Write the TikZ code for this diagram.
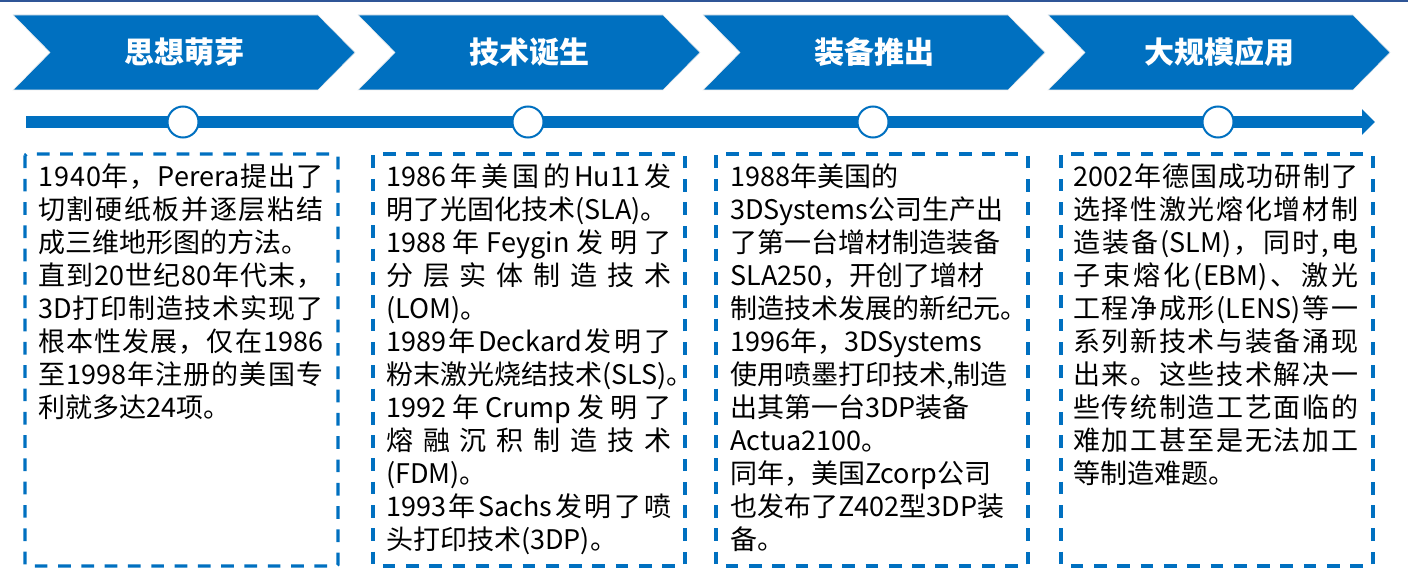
\documentclass[tikz,border=0pt]{standalone}
\usepackage{fontspec}
\setmainfont{Noto Sans CJK SC}
\usetikzlibrary{arrows.meta}
\definecolor{pblue}{HTML}{0070C0}
\definecolor{topblue}{HTML}{2F5597}
\newlength\tw
\setlength\tw{285pt}
\def\Jend{JEND}
\def\Jfirst#1{#1\Jloop}
\def\Jloop#1{\ifx\Jend#1\empty\else\hfill#1\expandafter\Jloop\fi}
\newcommand\J[1]{\makebox[\tw][s]{\Jfirst#1\Jend}}
\newcommand\st{\rule{0pt}{24pt}}
\tikzset{
  chev/.style={fill=pblue, draw=white!85!gray, line width=0.6pt},
  chevtitle/.style={text=white, font=\fontsize{30}{34}\selectfont\bfseries, inner sep=0pt},
  dot/.style={circle, fill=white, draw=pblue, line width=2pt, minimum size=31pt, inner sep=0pt},
  dbox/.style={draw=pblue, line width=3.3pt, dash pattern=on 12.7pt off 10.6pt, rounded corners=1.5pt},
  btext/.style={anchor=north west, inner sep=0pt, align=left, text=black, font=\fontsize{27}{33}\selectfont},
}
\begin{document}
\begin{tikzpicture}[x=1pt,y=-1pt]
\useasboundingbox (0,0) rectangle (1413,572);
\fill[topblue] (0,0) rectangle (1408,2.2);
% chevrons
\foreach \i/\t in {0/思想萌芽,1/技术诞生,2/装备推出,3/大规模应用}{
  \pgfmathsetmacro\dx{345*\i}
  \fill[chev] (13+\dx,15) -- (318+\dx,15) -- (355+\dx,52.5) -- (318+\dx,90) -- (13+\dx,90) -- (50+\dx,52.5) -- cycle;
  \node[chevtitle] (title\i) at (184+\dx,52.5) {\t};
}
% timeline
\coordinate (tl0) at (26,122);
\coordinate (tl1) at (1375,122);
\draw[pblue, line width=12pt, -{Triangle[length=13pt,width=25pt]}] (tl0) -- (tl1);
\foreach \i in {0,1,2,3}{
  \node[dot] (dot\i) at (183+345*\i,122) {};
}
% dashed boxes
\draw[dbox] (25,154) rectangle (338,566);
\draw[dbox] (373,154) rectangle (685,566);
\draw[dbox] (716,154) rectangle (1028,566);
\draw[dbox] (1061,154) rectangle (1373,566);
% texts
\node[btext] (t1) at (38,162) {%
\st\J{1940年，{Perera}提出了}\\
\J{切割硬纸板并逐层粘结}\\
成三维地形图的方法。\\
\J{直到{20}世纪{80}年代末，}\\
\J{{3D}打印制造技术实现了}\\
\J{根本性发展，仅在{1986}}\\
\J{至{1998}年注册的美国专}\\
利就多达24项。};
\node[btext] (t2) at (386,162) {%
\st\J{{1986}年美国的{Hu11}发}\\
明了光固化技术(SLA)。\\
\J{{1988}年{Feygin}发明了}\\
\J{分层实体制造技术}\\
(LOM)。\\
\J{{1989}年{Deckard}发明了}\\
粉末激光烧结技术(SLS)。\\
\J{{1992}年{Crump}发明了}\\
\J{熔融沉积制造技术}\\
(FDM)。\\
\J{{1993}年{Sachs}发明了喷}\\
头打印技术(3DP)。};
\node[btext] (t3) at (730,162) {%
\st 1988年美国的\\
3DSystems公司生产出\\
了第一台增材制造装备\\
SLA250，开创了增材\\
制造技术发展的新纪元。\\
1996年，3DSystems\\
使用喷墨打印技术,制造\\
出其第一台3DP装备\\
Actua2100。\\
同年，美国Zcorp公司\\
也发布了Z402型3DP装\\
备。};
\node[btext] (t4) at (1073,162) {%
\st\J{{2002}年德国成功研制了}\\
\J{选择性激光熔化增材制}\\
\J{造装备{(SLM)}，同时,电}\\
\J{子束熔化{(EBM)}、激光}\\
\J{工程净成形{(LENS)}等一}\\
\J{系列新技术与装备涌现}\\
\J{出来。这些技术解决一}\\
\J{些传统制造工艺面临的}\\
\J{难加工甚至是无法加工}\\
等制造难题。};
\end{tikzpicture}
\end{document}
